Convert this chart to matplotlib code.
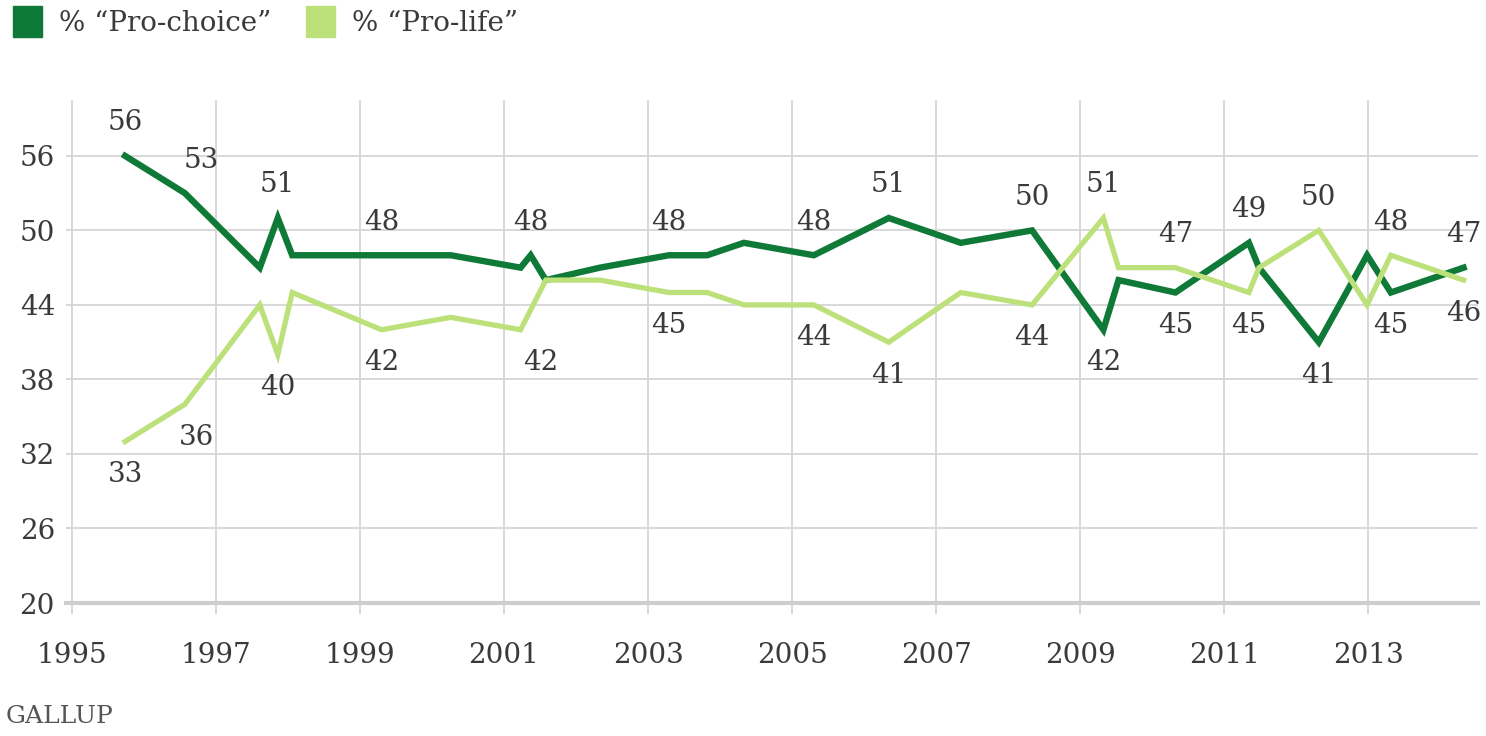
import matplotlib
matplotlib.use("Agg")
import matplotlib.pyplot as plt
from matplotlib.patches import Patch

plt.rcParams['font.family'] = ['DejaVu Serif', 'DejaVu Sans']

# data
choice_x = [1995.74, 1996.57, 1997.61, 1997.86, 1998.06, 1999.3, 2000.26, 2001.23, 2001.37,
            2001.58, 2002.33, 2003.29, 2003.82, 2004.33, 2005.3, 2006.34, 2007.34, 2008.33,
            2009.32, 2009.53, 2010.32, 2011.34, 2011.48, 2012.31, 2012.98, 2013.31, 2014.32]
choice_y = [56, 53, 47, 51, 48, 48, 48, 47, 48,
            46, 47, 48, 48, 49, 48, 51, 49, 50,
            42, 46, 45, 49, 47, 41, 48, 45, 47]

life_x = [1995.74, 1996.57, 1997.61, 1997.86, 1998.06, 1999.3, 2000.26, 2001.23,
          2001.58, 2002.33, 2003.29, 2003.82, 2004.33, 2005.3, 2006.34, 2007.34, 2008.33,
          2009.32, 2009.53, 2010.32, 2011.34, 2011.48, 2012.31, 2012.98, 2013.31, 2014.32]
life_y = [33, 36, 44, 40, 45, 42, 43, 42,
          46, 46, 45, 45, 44, 44, 41, 45, 44,
          51, 47, 47, 45, 47, 50, 44, 48, 46]

# which points carry a value label, and whether it sits above (1) or below (-1)
choice_labels = {0: 1, 1: 1, 3: 1, 5: 1, 8: 1, 11: 1, 14: 1, 15: 1, 17: 1,
                 18: -1, 20: -1, 21: 1, 23: -1, 25: -1, 26: 1}
life_labels = {0: -1, 1: -1, 3: -1, 5: -1, 7: -1, 10: -1, 13: -1, 14: -1, 16: -1,
               17: 1, 19: 1, 20: -1, 22: 1, 24: 1, 25: -1}

x_ticks = list(range(1995, 2014, 2))
y_ticks = [20, 26, 32, 38, 44, 50, 56]

dark = '#0f7a37'
light = '#bde17a'
grid_c = '#d8d8d8'
txt = '#3a3a3a'

fig = plt.figure(figsize=(14.86, 7.36), dpi=100)
ax = fig.add_axes([66 / 1486, 133 / 736, 1412 / 1486, 503 / 736])

ax.plot(choice_x, choice_y, color=dark, lw=4.6, solid_joinstyle='miter', zorder=3)
ax.plot(life_x, life_y, color=light, lw=3.8, solid_joinstyle='miter', zorder=4)

px = 72 / 100  # pixels -> points


def put_labels(xs, ys, which, dx_extra):
    for i, d in which.items():
        dx = dx_extra.get(i, 0)
        ax.annotate(str(ys[i]), (xs[i], ys[i]), xytext=(dx * px, d * 33 * px),
                    textcoords='offset points', ha='center', va='center',
                    fontsize=20, color=txt, zorder=5)


put_labels(choice_x, choice_y, choice_labels, {1: 16})
put_labels(life_x, life_y, life_labels, {1: 12, 7: 20})

ax.set_xlim(1994.92, 2014.52)
ax.set_ylim(20, 60.5)
ax.set_xticks(x_ticks)
ax.set_yticks(y_ticks)
ax.grid(True, color=grid_c, lw=1.4)
ax.set_axisbelow(True)
for s in ['top', 'right', 'left']:
    ax.spines[s].set_visible(False)
ax.spines['bottom'].set_color('#cdcdcd')
ax.spines['bottom'].set_linewidth(3)
ax.tick_params(axis='x', length=8, width=1.4, color=grid_c, pad=20, labelsize=20, labelcolor=txt)
ax.tick_params(axis='y', length=0, pad=8, labelsize=20, labelcolor=txt)

handles = [Patch(color=dark), Patch(color=light)]
fig.legend(handles, ['% \u201cPro-choice\u201d', '% \u201cPro-life\u201d'], ncol=2,
           loc='upper left', bbox_to_anchor=(13 / 1486, 1 - 6 / 736), frameon=False,
           fontsize=20, handlelength=1.05, handleheight=1.35, handletextpad=0.6,
           columnspacing=1.25, borderpad=0, borderaxespad=0, labelcolor=txt)

fig.text(6 / 1486, 8 / 736, 'GALLUP', fontsize=18, color='#555555', va='bottom', ha='left')

fig.savefig('out.png', dpi=100)
